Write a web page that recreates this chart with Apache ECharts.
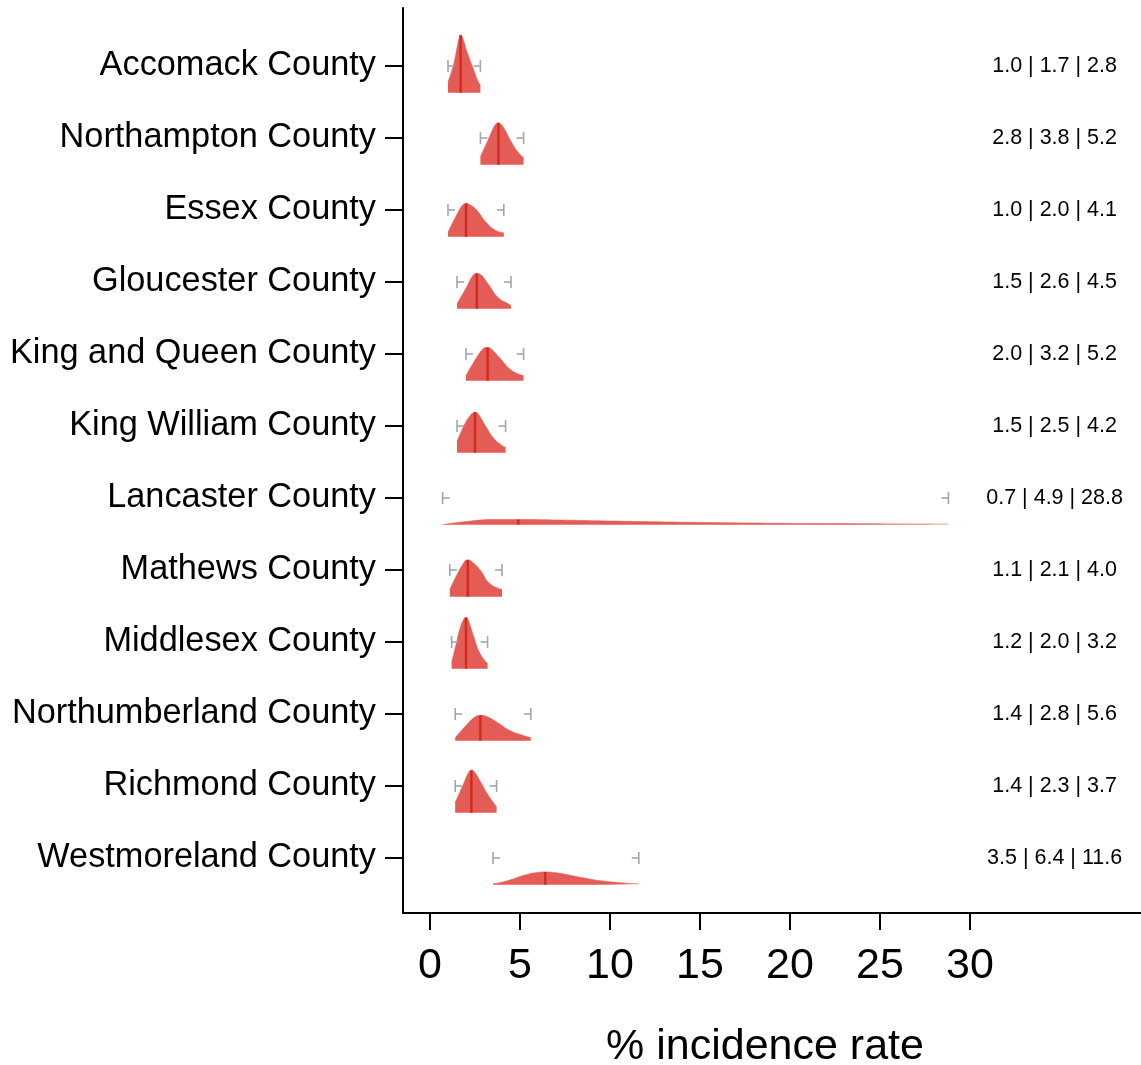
<!DOCTYPE html>
<html>
<head>
<meta charset="utf-8">
<script src="https://cdn.jsdelivr.net/npm/echarts@6/dist/echarts.min.js"></script>
<style>
html,body{margin:0;padding:0;background:#fff;}
#c{width:1141px;height:1065px;}
</style>
</head>
<body>
<div id="c"></div>
<script>
const counties = ['Accomack County','Northampton County','Essex County','Gloucester County','King and Queen County','King William County','Lancaster County','Mathews County','Middlesex County','Northumberland County','Richmond County','Westmoreland County'];
const lo  = [1.0, 2.8, 1.0, 1.5, 2.0, 1.5, 0.7, 1.1, 1.2, 1.4, 1.4, 3.5];
const med = [1.7, 3.8, 2.0, 2.6, 3.2, 2.5, 4.9, 2.1, 2.0, 2.8, 2.3, 6.4];
const hi  = [2.8, 5.2, 4.1, 4.5, 5.2, 4.2, 28.8, 4.0, 3.2, 5.6, 3.7, 11.6];
const xTicks = [0, 5, 10, 15, 20, 25, 30];

// density heights, [x value, height in row units]
const ridgeAccomack = [[1.0,0.15],[1.3,0.38],[1.5,0.62],[1.62,0.76],[1.7,0.80],[1.8,0.77],[2.04,0.58],[2.41,0.33],[2.7,0.14],[2.8,0.11]];
const ridgeNorthampton = [[2.8,0.11],[3.24,0.35],[3.5,0.50],[3.68,0.57],[3.8,0.58],[3.95,0.56],[4.17,0.48],[4.44,0.35],[4.9,0.17],[5.2,0.10]];
const ridgeEssex = [[1.0,0.06],[1.48,0.30],[1.75,0.42],[1.9,0.455],[2.0,0.46],[2.2,0.445],[2.59,0.37],[3.15,0.19],[3.7,0.08],[4.1,0.055]];
const ridgeGloucester = [[1.5,0.07],[2.04,0.30],[2.3,0.43],[2.5,0.485],[2.6,0.49],[2.8,0.475],[3.24,0.34],[3.8,0.15],[4.44,0.055],[4.5,0.04]];
const ridgeKingQueen = [[2.0,0.07],[2.59,0.32],[2.87,0.42],[3.1,0.46],[3.2,0.46],[3.45,0.43],[3.89,0.31],[4.54,0.14],[5.2,0.07]];
const ridgeKingWilliam = [[1.5,0.15],[1.94,0.40],[2.22,0.51],[2.4,0.555],[2.5,0.56],[2.7,0.53],[3.06,0.38],[3.61,0.18],[4.2,0.07]];
const ridgeLancaster = [[0.7,0.0],[1.91,0.04],[3.44,0.07],[4.9,0.072],[7.08,0.065],[10.1,0.05],[14.3,0.033],[19.1,0.02],[23.9,0.014],[28.8,0.007]];
const ridgeMathews = [[1.1,0.10],[1.57,0.34],[1.85,0.46],[2.0,0.505],[2.1,0.51],[2.3,0.49],[2.78,0.37],[3.33,0.18],[4.0,0.10]];
const ridgeMiddlesex = [[1.2,0.08],[1.48,0.37],[1.67,0.56],[1.88,0.69],[2.0,0.71],[2.12,0.68],[2.41,0.46],[2.78,0.21],[3.2,0.07]];
const ridgeNorthumberland = [[1.4,0.04],[2.04,0.22],[2.45,0.32],[2.7,0.35],[2.8,0.352],[3.1,0.34],[3.7,0.26],[4.44,0.14],[5.19,0.07],[5.6,0.04]];
const ridgeRichmond = [[1.4,0.14],[1.85,0.39],[2.15,0.56],[2.3,0.59],[2.45,0.57],[2.78,0.44],[3.24,0.24],[3.7,0.08]];
const ridgeWestmoreland = [[3.5,0.01],[4.26,0.05],[5.37,0.14],[6.0,0.17],[6.4,0.176],[7.0,0.165],[7.59,0.14],[8.7,0.085],[9.8,0.045],[11.6,0.01]];

const ridges = [ridgeAccomack, ridgeNorthampton, ridgeEssex, ridgeGloucester, ridgeKingQueen, ridgeKingWilliam,
  ridgeLancaster, ridgeMathews, ridgeMiddlesex, ridgeNorthumberland, ridgeRichmond, ridgeWestmoreland];

const BASE = 0.37;      // baseline of each ridge below its row tick (row units)
const LABEL_X = 34.7;   // x value where the right-hand summary labels are centred
const FILL = '#e35d56';
const MEDIAN = '#d42a20';
const WHISK = '#a3a7a7';
const FONT = '"Liberation Sans", Arial, sans-serif';

const rows = counties.map((c, i) => i);

const ridgeSeries = ridges.map((r, i) => ({
  type: 'line',
  data: r.map(p => [p[0], i + BASE - p[1]]),
  smooth: 0.5,
  showSymbol: false,
  symbol: 'none',
  lineStyle: { width: 0.6, color: FILL },
  areaStyle: { origin: i + BASE, color: FILL, opacity: 1 },
  silent: true,
  z: 2
}));

function heightAtMedian(i) {
  const r = ridges[i];
  let best = r[0];
  r.forEach(p => { if (Math.abs(p[0] - med[i]) < Math.abs(best[0] - med[i])) best = p; });
  return best[1];
}

const medianSeries = {
  type: 'custom',
  data: rows.map(i => [med[i], i, heightAtMedian(i)]),
  renderItem: function (params, api) {
    const x = api.value(0), row = api.value(1), h = api.value(2);
    const p0 = api.coord([x, row + BASE]);
    const p1 = api.coord([x, row + BASE - h]);
    return { type: 'line', shape: { x1: p0[0], y1: p0[1], x2: p1[0], y2: p1[1] },
      style: { stroke: MEDIAN, lineWidth: 2.5 } };
  },
  silent: true,
  z: 3
};

const whiskerSeries = {
  type: 'custom',
  data: rows.map(i => [lo[i], hi[i], i]),
  renderItem: function (params, api) {
    const a = api.coord([api.value(0), api.value(2)]);
    const b = api.coord([api.value(1), api.value(2)]);
    const st = { stroke: WHISK, lineWidth: 1.6 };
    const hh = 6, stub = 7;
    return { type: 'group', children: [
      { type: 'line', shape: { x1: a[0], y1: a[1] - hh, x2: a[0], y2: a[1] + hh }, style: st },
      { type: 'line', shape: { x1: a[0], y1: a[1], x2: a[0] + stub, y2: a[1] }, style: st },
      { type: 'line', shape: { x1: b[0], y1: b[1] - hh, x2: b[0], y2: b[1] + hh }, style: st },
      { type: 'line', shape: { x1: b[0] - stub, y1: b[1], x2: b[0], y2: b[1] }, style: st }
    ]};
  },
  silent: true,
  z: 4
};

const labelSeries = {
  type: 'custom',
  data: rows.map(i => [LABEL_X, i]),
  renderItem: function (params, api) {
    const p = api.coord([api.value(0), api.value(1)]);
    const i = params.dataIndex;
    return { type: 'text', x: p[0], y: p[1],
      style: { text: lo[i].toFixed(1) + ' | ' + med[i].toFixed(1) + ' | ' + hi[i].toFixed(1),
        fill: '#000', font: '21.5px ' + FONT, align: 'center', verticalAlign: 'middle' } };
  },
  silent: true,
  z: 5
};

const chart = echarts.init(document.getElementById('c'), null, { renderer: 'canvas' });
chart.setOption({
  animation: false,
  backgroundColor: '#fff',
  grid: { left: 403, right: 0, top: 8, bottom: 152, containLabel: false, outerBoundsMode: 'none' },
  xAxis: {
    type: 'value', min: -1.5, max: 39.5,
    axisLine: { show: true, onZero: false, lineStyle: { color: '#000', width: 2 } },
    axisTick: { show: true, customValues: xTicks, length: 17, lineStyle: { color: '#000', width: 2 } },
    axisLabel: { customValues: xTicks, fontSize: 43, fontFamily: FONT, color: '#000', margin: 32 },
    splitLine: { show: false },
    name: '% incidence rate', nameLocation: 'middle', nameGap: 113,
    nameTextStyle: { fontSize: 43, fontFamily: FONT, color: '#000', padding: [0, 14, 0, 0] }
  },
  yAxis: {
    type: 'value', inverse: true, min: -0.806, max: 11.764,
    axisLine: { show: true, onZero: false, lineStyle: { color: '#000', width: 2 } },
    axisTick: { show: true, customValues: rows, length: 18, lineStyle: { color: '#000', width: 2 } },
    axisLabel: { customValues: rows, formatter: v => counties[Math.round(v)], fontSize: 34.3, fontFamily: FONT, color: '#000', margin: 27 },
    splitLine: { show: false }
  },
  series: ridgeSeries.concat([medianSeries, whiskerSeries, labelSeries])
});
</script>
</body>
</html>
